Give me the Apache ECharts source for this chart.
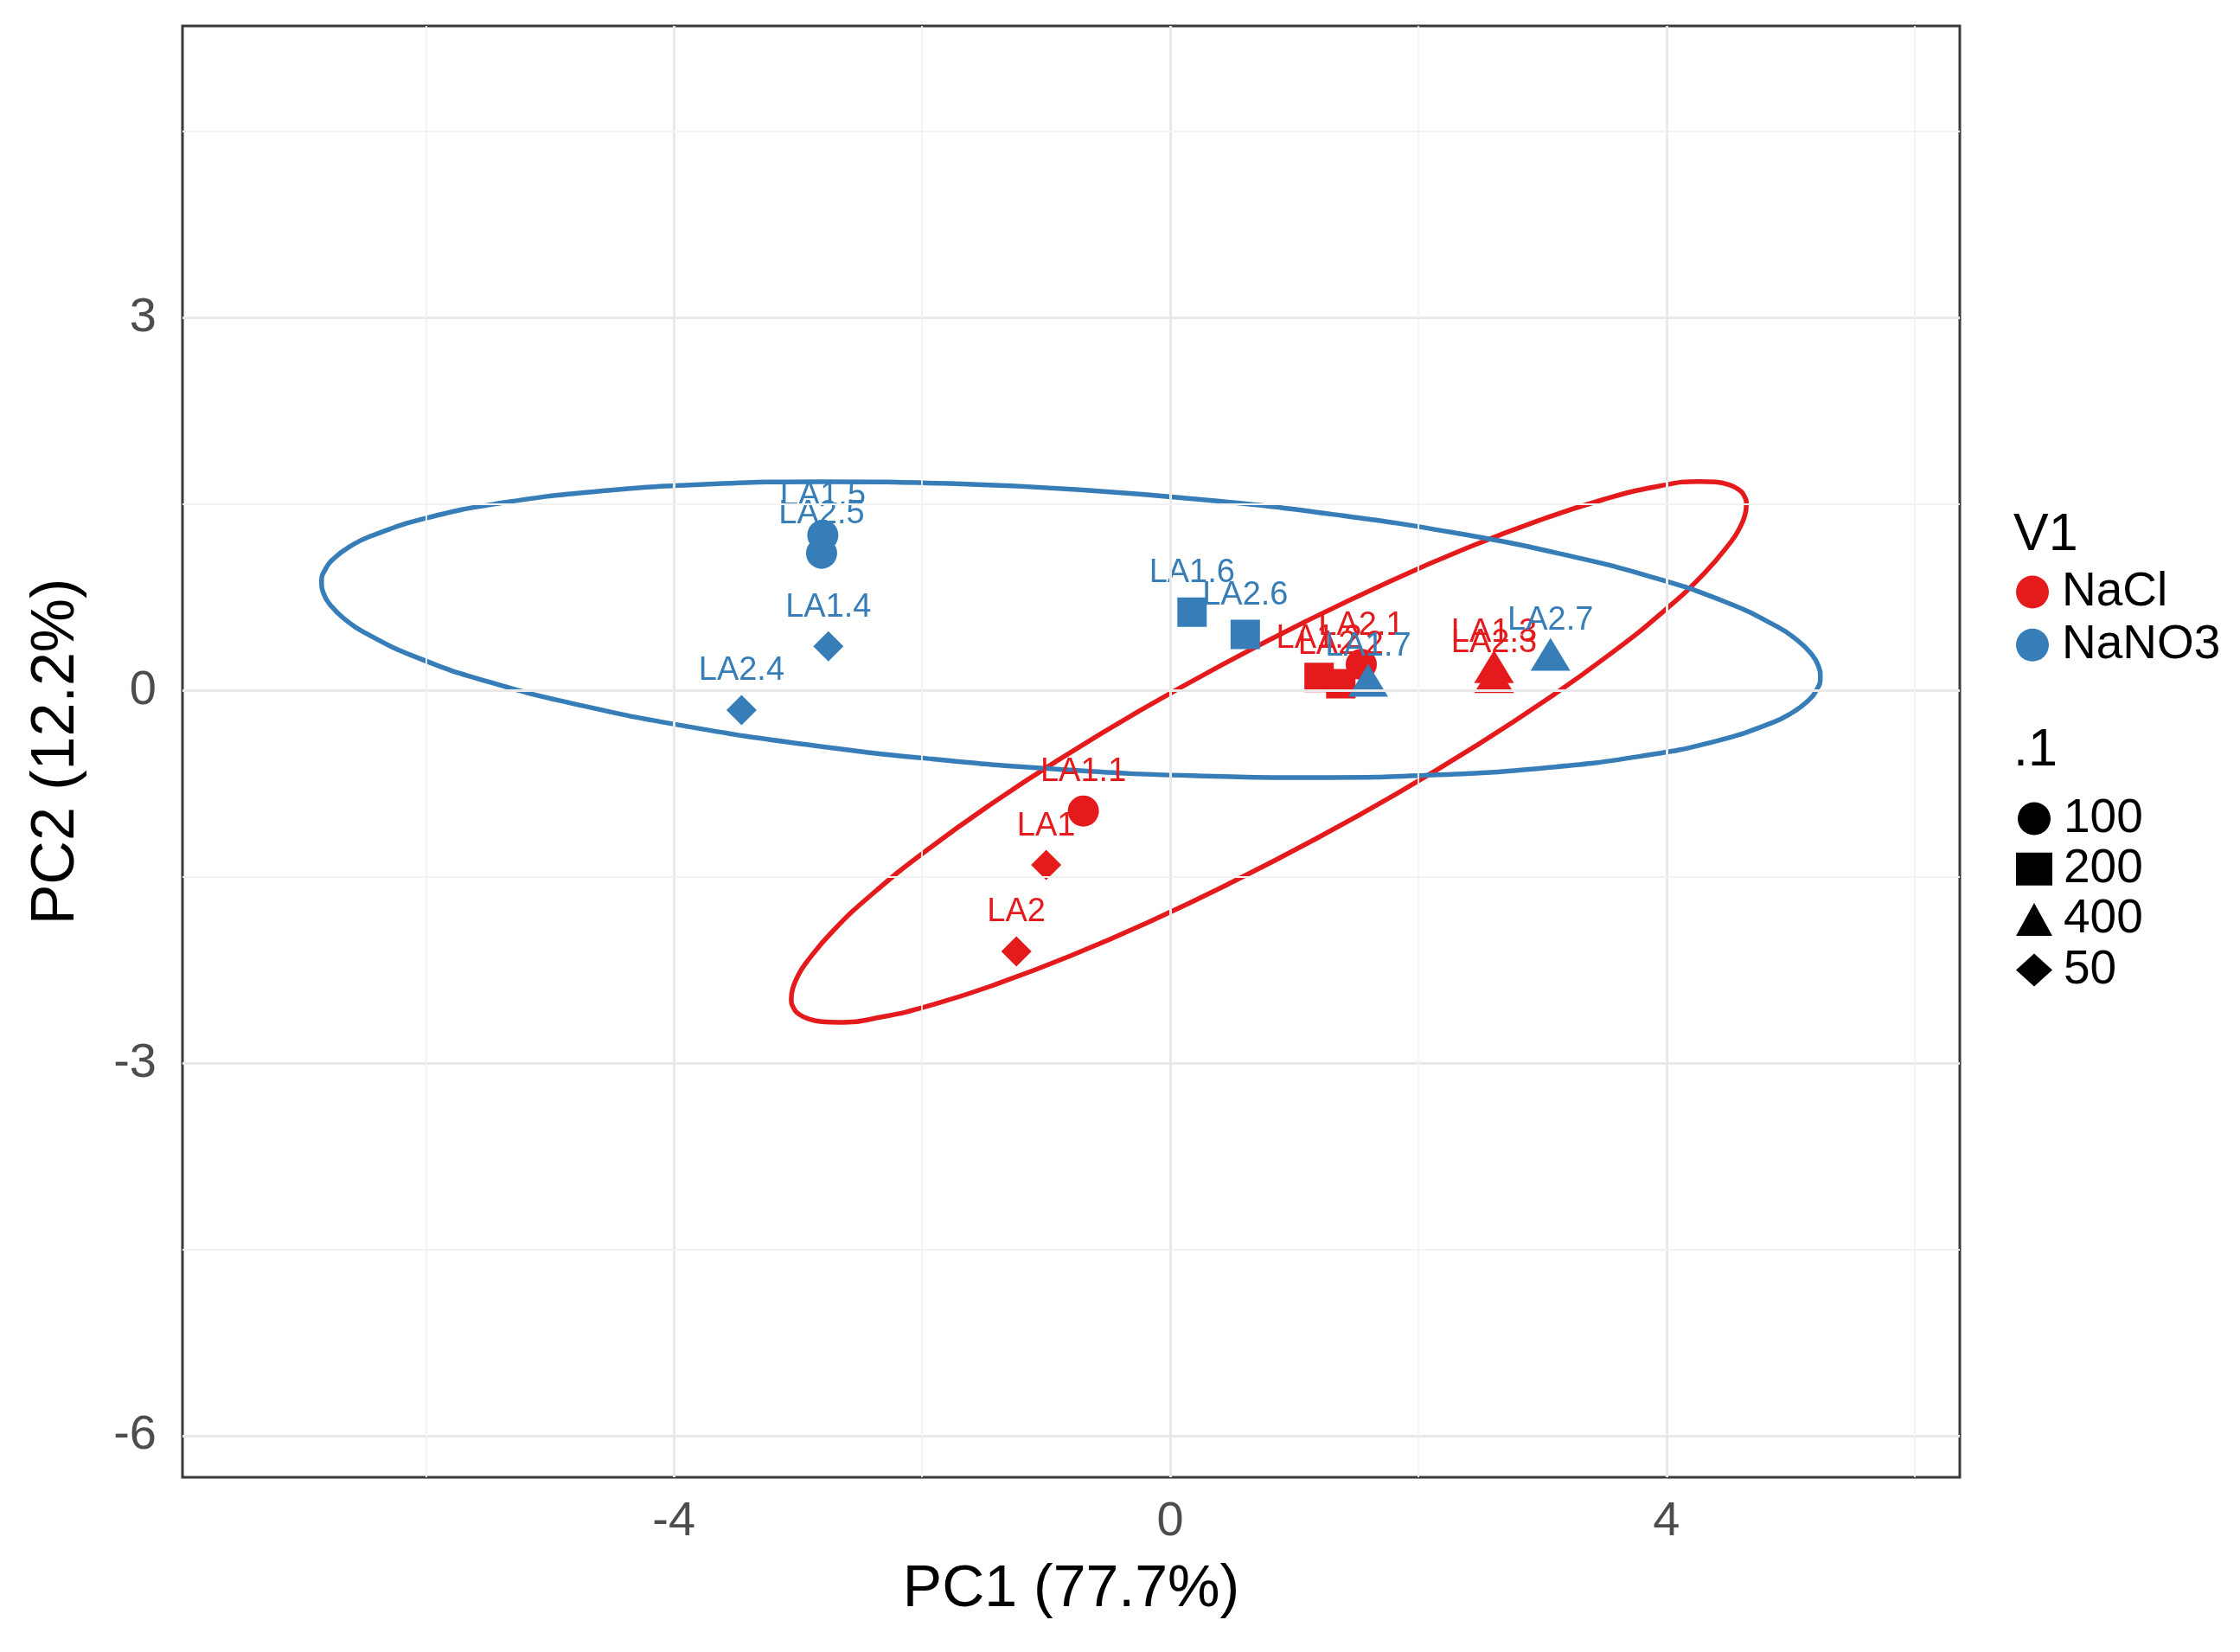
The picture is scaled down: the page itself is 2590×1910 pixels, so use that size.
<!DOCTYPE html>
<html><head><meta charset="utf-8">
<script src="https://cdn.jsdelivr.net/npm/echarts@6/dist/echarts.min.js"></script>
<style>html,body{margin:0;padding:0;background:#fff}#c{width:2590px;height:1910px}</style>
</head><body><div id="c"></div>
<script>
// ---- data ----
const sampleNames = ['LA1','LA2','LA1.1','LA2.1','LA1.2','LA2.2','LA1.3','LA2.3',
                     'LA1.4','LA2.4','LA1.5','LA2.5','LA1.6','LA2.6','LA1.7','LA2.7'];
const pc1Values = [-1.00,-1.24,-0.70,1.54,1.20,1.375,2.61,2.61,
                   -2.755,-3.455,-2.80,-2.81,0.176,0.605,1.596,3.065];
const pc2Values = [-1.405,-2.10,-0.97,0.21,0.105,0.055,0.15,0.07,
                   0.355,-0.157,1.25,1.105,0.63,0.452,0.04,0.25];
const groupOf = ['NaCl','NaCl','NaCl','NaCl','NaCl','NaCl','NaCl','NaCl',
                 'NaNO3','NaNO3','NaNO3','NaNO3','NaNO3','NaNO3','NaNO3','NaNO3'];
const doseOf = ['50','50','100','100','200','200','400','400',
                '50','50','100','100','200','200','400','400'];
const groupNames = ['NaCl','NaNO3'];
const doseLevels = ['100','200','400','50'];

const xTickValues = [-4,0,4];
const yTickValues = [-6,-3,0,3];
const xMinorValues = [-6,-2,2,6];
const yMinorValues = [-4.5,-1.5,1.5,4.5];

// ellipse outlines
const ellipseNaNO3 = [[-0.728,1.616],[-1.777,1.666],[-2.798,1.681],[-3.757,1.659],[-4.627,1.602],[-5.380,1.511],
 [-5.994,1.389],[-6.451,1.240],[-6.615,1.157],[-6.735,1.068],[-6.810,0.975],[-6.840,0.879],[-6.823,0.779],
 [-6.760,0.677],[-6.653,0.574],[-6.500,0.470],[-6.067,0.264],
 [-5.473,0.064],[-4.738,-0.122],[-3.883,-0.291],[-2.934,-0.435],[-1.920,-0.551],[-0.872,-0.636],[0.177,-0.686],
 [1.198,-0.701],[2.157,-0.679],[3.027,-0.622],[3.780,-0.531],[4.394,-0.409],[4.851,-0.260],[5.015,-0.177],
 [5.135,-0.088],[5.210,0.005],[5.240,0.101],[5.223,0.201],[5.160,0.303],[5.053,0.406],[4.900,0.510],
 [4.467,0.716],[3.873,0.916],[3.138,1.102],[2.283,1.271],[1.334,1.415],[0.320,1.531],[-0.728,1.616]];
const ellipseNaCl = [[0.418,0.207],[-0.242,-0.161],[-0.870,-0.540],[-1.447,-0.917],[-1.957,-1.282],[-2.382,-1.622],
 [-2.711,-1.928],[-2.934,-2.191],[-3.003,-2.303],[-3.043,-2.402],[-3.054,-2.486],[-3.036,-2.555],[-2.989,-2.608],
 [-2.912,-2.645],[-2.808,-2.666],[-2.676,-2.671],[-2.334,-2.630],
 [-1.897,-2.524],[-1.379,-2.356],[-0.794,-2.132],[-0.161,-1.858],[0.501,-1.542],[1.172,-1.195],[1.832,-0.827],
 [2.460,-0.448],[3.037,-0.071],[3.547,0.294],[3.972,0.634],[4.301,0.940],[4.524,1.203],[4.593,1.315],
 [4.633,1.414],[4.644,1.498],[4.626,1.567],[4.579,1.620],[4.502,1.657],[4.398,1.678],[4.266,1.683],
 [3.924,1.642],[3.487,1.536],[2.969,1.368],[2.384,1.144],[1.751,0.870],[1.089,0.554],[0.418,0.207]];

// ---- styling ----
const colorOf = {NaCl:'#E41A1C', NaNO3:'#377EB8'};
const shapeOf = {'100':'circle','200':'rect','400':'triangle','50':'diamond'};
const sizeOf = {'100':36,'200':34,'400':[46,38],'50':35};
const offsetOf = {'100':[0,0],'200':[0,0],'400':[0,-6],'50':[0,0]};
const labelOffsetOf = {'100':[0,-45],'200':[0,-45],'400':[0,-39],'50':[0,-45]};
const FONT = '"Liberation Sans", Arial, Helvetica, sans-serif';

const chart = echarts.init(document.getElementById('c'));

const gridLines = [];
xTickValues.forEach(v => gridLines.push({xAxis:v, lineStyle:{color:'#e9e9e9', width:3, type:'solid'}}));
yTickValues.forEach(v => gridLines.push({yAxis:v, lineStyle:{color:'#e9e9e9', width:3, type:'solid'}}));
xMinorValues.forEach(v => gridLines.push({xAxis:v, lineStyle:{color:'#f2f2f2', width:1.8, type:'solid'}}));
yMinorValues.forEach(v => gridLines.push({yAxis:v, lineStyle:{color:'#f2f2f2', width:1.8, type:'solid'}}));

const series = [{
  name:'gridlines', type:'line', data:[], z:0, silent:true,
  markLine:{silent:true, symbol:['none','none'], label:{show:false}, animation:false, data:gridLines}
}];

const ellipses = {NaCl: ellipseNaCl, NaNO3: ellipseNaNO3};
groupNames.forEach(g => {
  series.push({
    name:g, type:'line', data:ellipses[g], showSymbol:false, smooth:0.5, z:3,
    lineStyle:{color:colorOf[g], width:5.5, join:'round'}, itemStyle:{color:colorOf[g]}, silent:true
  });
});

doseLevels.forEach(d => {
  const data = [];
  sampleNames.forEach((n,i) => {
    if (doseOf[i] !== d) return;
    data.push({name:n, value:[pc1Values[i], pc2Values[i]],
      itemStyle:{color:colorOf[groupOf[i]]}, label:{color:colorOf[groupOf[i]]}});
  });
  series.push({
    name:d, type:'scatter', data, symbol:shapeOf[d], symbolSize:sizeOf[d], symbolOffset:offsetOf[d], z:4,
    itemStyle:{color:'#000', opacity:1},
    label:{show:true, formatter:'{b}', position:'inside', offset:labelOffsetOf[d], fontSize:38,
      fontFamily:FONT, verticalAlign:'middle', align:'center'},
    emphasis:{disabled:true}
  });
});

const legendText = {fontSize:55, lineHeight:50, color:'#000', fontFamily:FONT, padding:[0,0,0,8]};

chart.setOption({
  animation:false,
  backgroundColor:'#fff',
  textStyle:{fontFamily:FONT},
  grid:{left:211, right:324, top:30, bottom:202, show:true, borderColor:'#3a3a3a', borderWidth:3, backgroundColor:'#fff'},
  title:[
    {text:'V1', left:2328, top:589, padding:0, textStyle:{fontSize:61, fontWeight:'normal', color:'#000', fontFamily:FONT}},
    {text:'.1', left:2328, top:838, padding:0, textStyle:{fontSize:61, fontWeight:'normal', color:'#000', fontFamily:FONT}}
  ],
  legend:[
    {orient:'vertical', left:2331, top:657, padding:0, itemGap:6.2, itemWidth:42, itemHeight:38,
     symbolKeepAspect:false, selectedMode:false, textStyle:legendText,
     data:groupNames.map(g => ({name:g, icon:'circle', itemStyle:{color:colorOf[g]}}))},
    {orient:'vertical', left:2331, top:919, padding:0, itemGap:3.3, itemWidth:42, itemHeight:38,
     symbolKeepAspect:false, selectedMode:false, textStyle:legendText,
     data:doseLevels.map(d => ({name:d, icon:shapeOf[d], itemStyle:{color:'#000'}}))}
  ],
  xAxis:{type:'value', min:-7.961, max:6.364,
    name:'PC1 (77.7%)', nameLocation:'middle', nameGap:96,
    nameTextStyle:{fontSize:68, color:'#000', fontFamily:FONT},
    axisLine:{show:false}, splitLine:{show:false},
    axisTick:{show:true, customValues:xTickValues, length:16, lineStyle:{color:'#333', width:3}},
    axisLabel:{customValues:xTickValues, fontSize:56, color:'#4d4d4d', margin:24, fontFamily:FONT}},
  yAxis:{type:'value', min:-6.334, max:5.350,
    name:'PC2 (12.2%)', nameLocation:'middle', nameGap:110,
    nameTextStyle:{fontSize:70, color:'#000', fontFamily:FONT},
    axisLine:{show:false}, splitLine:{show:false},
    axisTick:{show:true, customValues:yTickValues, length:16, lineStyle:{color:'#333', width:3}},
    axisLabel:{customValues:yTickValues, fontSize:56, color:'#4d4d4d', margin:30, fontFamily:FONT}},
  series
});
</script></body></html>
